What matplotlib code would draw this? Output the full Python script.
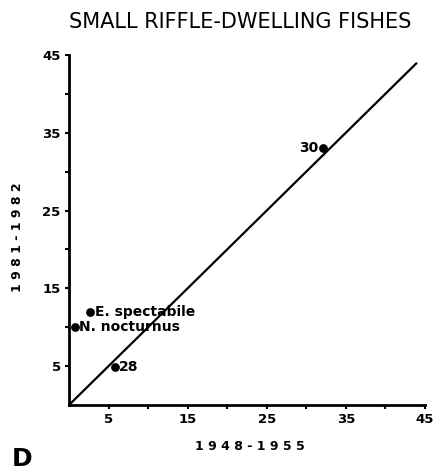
import matplotlib.pyplot as plt

# data
point_x = [32.1, 5.8, 2.7, 0.7]
point_y = [33.0, 4.9, 12.0, 10.0]
point_labels = ["30", "28", "E. spectabile", "N. nocturnus"]
line_x = [0, 44]
line_y = [0, 44]
tick_values = [5, 10, 15, 20, 25, 30, 35, 40, 45]
tick_labels = ["5", "", "15", "", "25", "", "35", "", "45"]

FONT = "DejaVu Sans"

fig = plt.figure(figsize=(4.38, 4.72), dpi=100)
ax = fig.add_axes([0.1575, 0.1419, 0.8125, 0.7416])

ax.plot(line_x, line_y, color="black", linewidth=1.6, solid_capstyle="butt")
ax.scatter(point_x, point_y, s=28, color="black", zorder=3, clip_on=False)

offsets = [(-3, 0, "right"), (3, 0, "left"), (3, 0, "left"), (3, 0, "left")]
for x, y, lbl, (dx, dy, ha) in zip(point_x, point_y, point_labels, offsets):
    ax.annotate(lbl, xy=(x, y), xytext=(dx, dy), textcoords="offset points",
                ha=ha, va="center", fontsize=10, fontweight="bold", family=FONT)

ax.set_xlim(0, 45)
ax.set_ylim(0, 45)
ax.set_xticks(tick_values)
ax.set_xticklabels(tick_labels)
ax.set_yticks(tick_values)
ax.set_yticklabels(tick_labels)
ax.tick_params(direction="out", length=3, width=1.5, labelsize=9.5, pad=3)
for lab in ax.get_xticklabels() + ax.get_yticklabels():
    lab.set_fontweight("bold")
    lab.set_family(FONT)

for spine in ("top", "right"):
    ax.spines[spine].set_visible(False)
for spine in ("left", "bottom"):
    ax.spines[spine].set_linewidth(2)

ax.set_xlabel("1 9 4 8 - 1 9 5 5", fontsize=9, fontweight="bold", family=FONT)
ax.set_ylabel("1 9 8 1 - 1 9 8 2", fontsize=9, fontweight="bold", family=FONT)
ax.xaxis.set_label_coords(0.508, -0.1)
ax.yaxis.set_label_coords(-0.126, 0.48)

fig.text(0.548, 0.953, "SMALL RIFFLE-DWELLING FISHES", ha="center", va="center",
         fontsize=15, family=FONT)
fig.text(0.027, 0.002, "D", ha="left", va="bottom", fontsize=18, fontweight="bold", family=FONT)

fig.savefig("out.png", dpi=100)
